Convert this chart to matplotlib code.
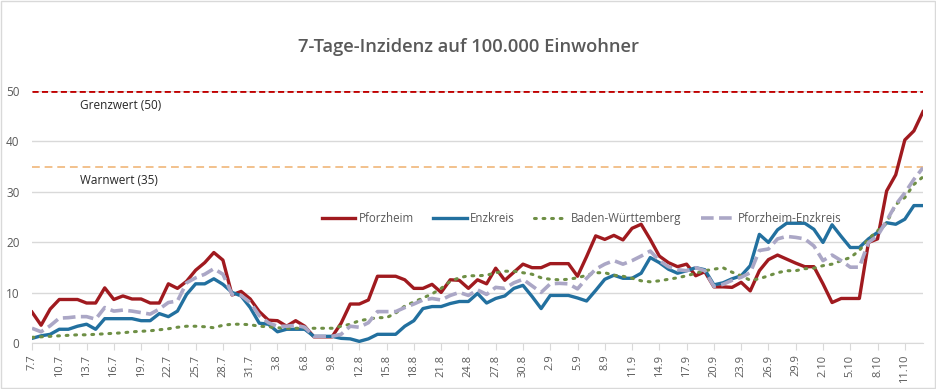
import matplotlib
matplotlib.use("Agg")
import matplotlib.pyplot as plt
import pandas as pd
from matplotlib.patches import Rectangle

# daily values 7.7. - 13.10.
dates = pd.date_range("2020-07-07", "2020-10-13", freq="D")

pforzheim = [6.2, 3.6, 6.8, 8.7, 8.7, 8.7, 8.0, 8.0, 11.0, 8.7,
             9.4, 8.8, 8.8, 8.0, 8.0, 11.8, 10.9, 12.3, 14.5, 16.0,
             18.0, 16.5, 9.6, 10.3, 8.8, 6.3, 4.6, 4.5, 3.4, 4.5,
             3.4, 1.3, 1.3, 1.3, 4.0, 7.8, 7.8, 8.6, 13.3, 13.3,
             13.3, 12.6, 10.9, 10.9, 11.7, 10.1, 12.6, 12.5, 10.9, 12.6,
             11.8, 14.9, 12.5, 14.1, 15.7, 15.0, 15.0, 15.8, 15.8, 15.8,
             13.3, 17.2, 21.3, 20.6, 21.4, 20.5, 22.8, 23.6, 20.6, 17.3,
             16.0, 15.2, 15.7, 13.4, 14.2, 11.2, 11.2, 11.1, 12.1, 10.4,
             14.4, 16.6, 17.5, 16.7, 15.9, 15.2, 15.2, 11.8, 8.1, 8.9,
             8.9, 8.9, 20.0, 20.7, 30.2, 33.4, 40.3, 42.1, 45.9]

enzkreis = [1.0, 1.5, 1.8, 2.8, 2.8, 3.4, 3.8, 2.8, 4.9, 4.9,
            4.9, 4.9, 4.5, 4.5, 5.9, 5.3, 6.4, 9.7, 11.8, 11.8,
            12.8, 11.7, 10.1, 9.4, 7.1, 4.0, 3.8, 2.3, 2.8, 2.8,
            2.8, 1.4, 1.4, 1.4, 1.0, 0.9, 0.4, 0.9, 1.8, 1.8,
            1.8, 3.4, 4.5, 6.9, 7.3, 7.3, 7.9, 8.3, 8.3, 9.9,
            8.0, 8.9, 9.4, 10.9, 11.5, 9.3, 6.9, 9.5, 9.5, 9.5,
            9.0, 8.4, 10.5, 12.7, 13.5, 12.9, 12.9, 13.9, 17.0, 16.0,
            14.7, 13.9, 14.4, 15.0, 14.6, 11.6, 12.0, 12.8, 13.4, 15.4,
            21.6, 20.0, 22.5, 23.8, 23.8, 23.8, 22.6, 20.0, 23.5, 21.2,
            19.0, 19.0, 20.7, 22.0, 23.9, 23.6, 24.6, 27.3, 27.3]

bw = [1.2, 1.3, 1.4, 1.5, 1.6, 1.7, 1.7, 1.8, 1.9, 2.0,
      2.1, 2.3, 2.4, 2.5, 2.7, 2.9, 3.2, 3.4, 3.4, 3.3,
      3.1, 3.6, 3.8, 3.8, 3.7, 3.4, 3.3, 3.1, 3.0, 3.0,
      3.0, 3.0, 3.0, 3.0, 3.4, 3.8, 4.5, 4.8, 5.1, 5.1,
      6.0, 7.4, 8.2, 9.0, 9.8, 10.9, 12.3, 13.0, 13.4, 13.4,
      13.5, 14.0, 14.3, 14.3, 14.0, 13.7, 13.0, 12.7, 12.6, 12.7,
      13.0, 13.5, 14.0, 14.0, 13.5, 13.3, 12.9, 12.4, 12.2, 12.4,
      12.7, 13.0, 13.4, 13.9, 14.4, 14.7, 15.0, 14.1, 13.4, 12.5,
      12.8, 13.4, 14.0, 14.4, 14.4, 14.8, 14.9, 15.4, 15.7, 16.4,
      17.0, 18.4, 20.7, 22.3, 23.9, 27.5, 28.9, 31.5, 33.0]

pf_enz = [3.0, 2.3, 3.5, 5.0, 5.1, 5.3, 5.3, 4.8, 7.1, 6.4,
          6.6, 6.4, 6.1, 5.8, 6.8, 8.1, 8.4, 12.0, 13.0, 13.7,
          14.8, 13.7, 9.7, 9.5, 8.1, 5.5, 4.1, 3.4, 3.4, 3.6,
          3.2, 1.4, 1.4, 1.4, 1.8, 3.4, 3.2, 4.1, 6.3, 6.3,
          6.3, 7.1, 7.8, 8.6, 8.9, 8.6, 9.5, 10.1, 9.5, 10.6,
          9.7, 11.1, 10.9, 12.0, 12.7, 11.4, 10.1, 11.8, 11.9, 11.8,
          10.8, 12.9, 14.7, 15.7, 16.4, 15.7, 16.4, 17.3, 18.3, 16.4,
          15.2, 14.6, 14.4, 15.0, 14.4, 11.3, 11.7, 12.5, 13.1, 14.0,
          18.4, 18.7, 20.7, 21.2, 21.0, 20.7, 19.3, 16.4, 17.5, 16.4,
          15.1, 15.1, 20.0, 21.3, 24.3, 27.5, 29.8, 32.5, 34.8]

grenzwert = 50
warnwert = 35

plt.rcParams['font.family'] = ['Open Sans', 'DejaVu Sans']
grey_txt = '#595959'

fig = plt.figure(figsize=(9.37, 3.89), dpi=100)
ax = fig.add_axes([32 / 937, 45.6 / 389, 891 / 937, 252.4 / 389])

x = list(range(len(dates)))

ax.axhline(grenzwert, color='#C00000', lw=2, ls=(0, (2.2, 1.2)), zorder=2)
ax.axhline(warnwert, color='#F2C18C', lw=1.4, ls=(0, (4, 2.5)), zorder=2)
ax.text(5.3, grenzwert - 2.8, "Grenzwert (50)", fontsize=8.5, color='#262626', va='center')
ax.text(5.3, warnwert - 2.8, "Warnwert (35)", fontsize=8.5, color='#262626', va='center')

ax.plot(x, pforzheim, color='#A01A1F', lw=2.4, label='Pforzheim', zorder=3)
ax.plot(x, enzkreis, color='#22709F', lw=2.4, label='Enzkreis', zorder=4)
ax.plot(x, bw, color='#6E8F45', lw=2.2, ls=(0, (0.6, 2.2)), dash_capstyle='round',
        label='Baden-Württemberg', zorder=5)
ax.plot(x, pf_enz, color='#ABA7C6', lw=2.6, ls=(0, (3.5, 1.5)), label='Pforzheim-Enzkreis', zorder=6)

ax.set_xlim(0, len(dates) - 1)
ax.set_ylim(0, 50)
ax.set_yticks(range(0, 51, 10))
ax.grid(axis='y', color='#D9D9D9', lw=1, zorder=0)
ax.set_axisbelow(True)

tick_pos = x[::3]
ax.set_xticks(tick_pos)
ax.set_xticklabels([f"{d.day}.{d.month}" for d in dates[::3]], rotation=90)
ax.tick_params(axis='x', length=5, color='#D9D9D9', labelsize=8, labelcolor=grey_txt, pad=3)
ax.tick_params(axis='y', length=0, labelsize=8.5, labelcolor=grey_txt, pad=9)

for side in ['top', 'right', 'left']:
    ax.spines[side].set_visible(False)
ax.spines['bottom'].set_color('#D9D9D9')

ax.legend(loc='center', bbox_to_anchor=(0.617, 0.495), ncol=4, frameon=False,
          fontsize=8.3, labelcolor=grey_txt, handlelength=2.9, columnspacing=1.7,
          handletextpad=0.3)

fig.text(0.5, 1 - 47 / 389, "7-Tage-Inzidenz auf 100.000 Einwohner", ha='center', va='center',
         fontsize=13.2, fontweight='semibold', color=grey_txt)

fig.patches.append(Rectangle((0.001, 0.003), 0.997, 0.995, transform=fig.transFigure,
                             fill=False, edgecolor='#D9D9D9', lw=1))

fig.savefig("out.png", dpi=100)
